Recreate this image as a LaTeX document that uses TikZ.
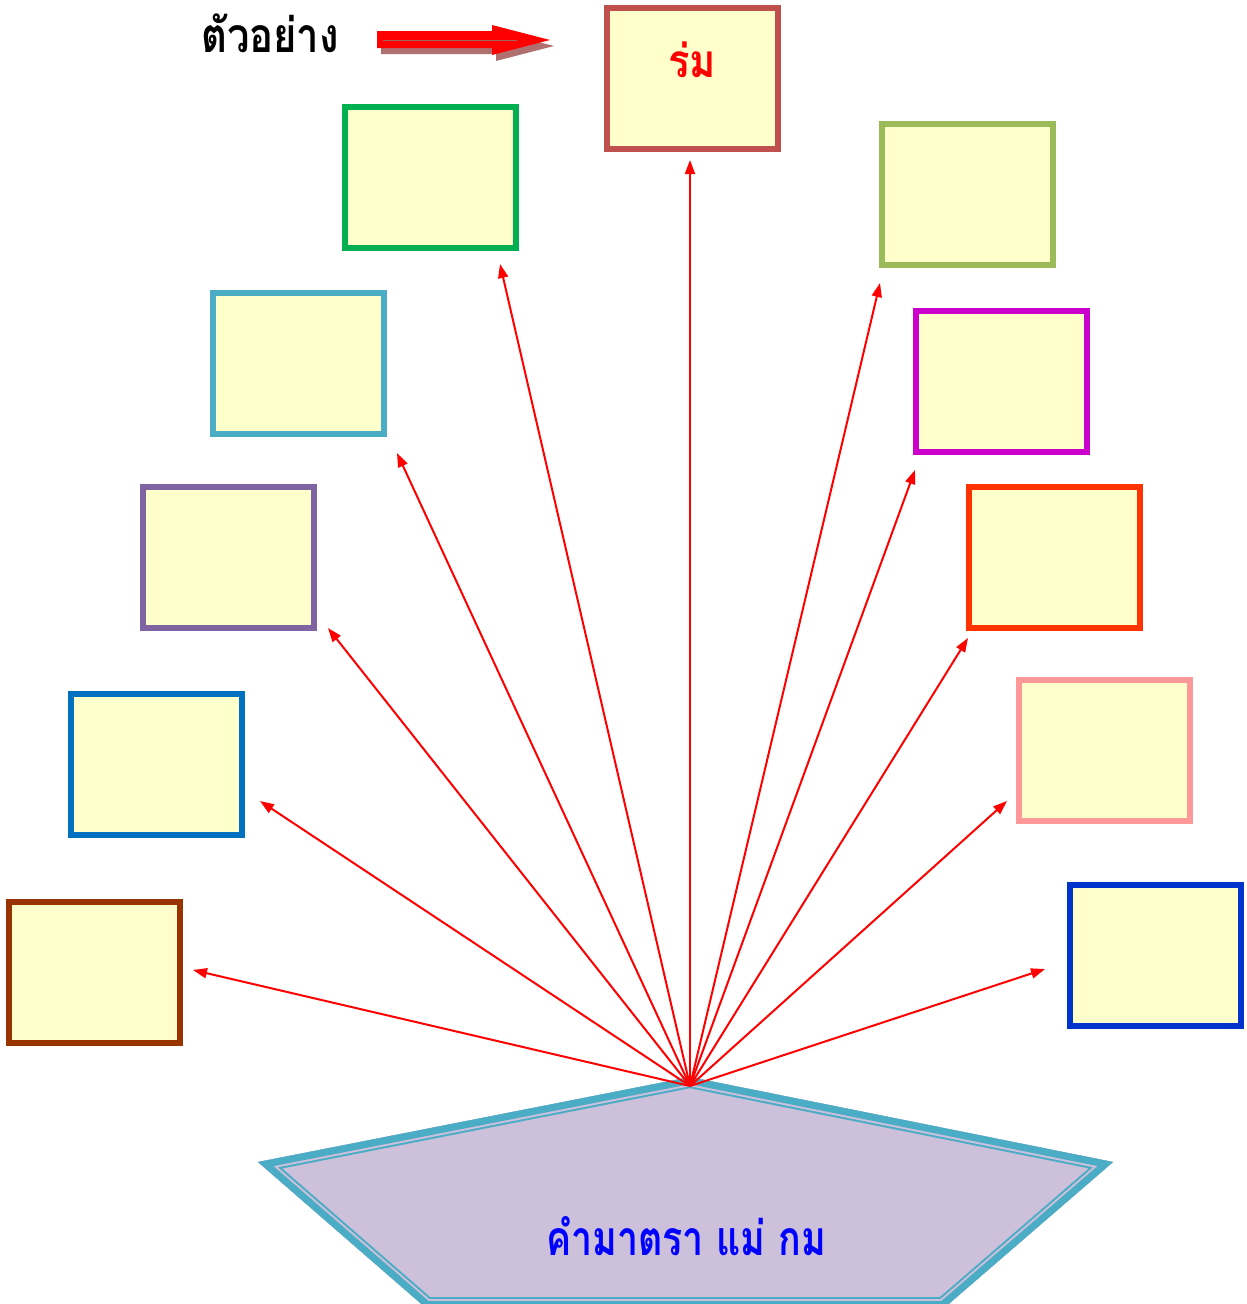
\documentclass[tikz,border=0pt]{standalone}
\usepackage{fontspec}
\newfontfamily\thai[Script=Thai]{Loma}
\usetikzlibrary{arrows.meta}
\definecolor{boxfill}{HTML}{FFFFCC}
\definecolor{cTop}{HTML}{C0504D}
\definecolor{cGreen}{HTML}{00B050}
\definecolor{cCyan}{HTML}{4BACC6}
\definecolor{cPurple}{HTML}{8064A2}
\definecolor{cBlue}{HTML}{0070C0}
\definecolor{cBrown}{HTML}{993300}
\definecolor{cOlive}{HTML}{9BBB59}
\definecolor{cMag}{HTML}{CC00CC}
\definecolor{cOrange}{HTML}{FF3300}
\definecolor{cPink}{HTML}{FF9999}
\definecolor{cDBlue}{HTML}{0033CC}
\definecolor{teal}{HTML}{4BACC6}
\definecolor{lilac}{HTML}{CCC0DA}
\definecolor{shadowc}{HTML}{B07070}
\begin{document}
\begin{tikzpicture}[x=1pt,y=-1pt,
  box/.style={draw, line width=6pt, fill=boxfill, minimum width=171pt, minimum height=141pt, inner sep=0pt},
  ray/.style={draw=red, line width=2pt, -{Triangle[length=14pt,width=10pt]}},
  thaitext/.style={font=\thai\bfseries\fontsize{40}{48}\selectfont}]
\useasboundingbox (0,0) rectangle (1247,1304);
\clip (0,0) rectangle (1247,1304);
% pentagon
\def\pent{(690,1077) -- (1113,1162) -- (944,1308) -- (426,1308) -- (258,1162) -- cycle}
\fill[lilac] \pent;
\begin{scope}
  \clip \pent;
  \draw[teal, line width=22pt, line join=miter] \pent;
  \draw[lilac, line width=18pt, line join=miter] \pent;
  \draw[teal, line width=14pt, line join=miter] \pent;
\end{scope}
\node[thaitext, text=blue] (base) at (686,1236) {\scalebox{0.94}[1.2]{คำมาตรา แม่ กม}};
% boxes
\node[box, draw=cTop, line width=6pt] (top) at (692,78) {};
\node[thaitext, text=red] (toplabel) at (692,60) {\scalebox{1}[1.15]{ร่ม}};
\node[box, draw=cGreen] (g) at (430,177) {};
\node[box, draw=cCyan] (c) at (298,363) {};
\node[box, draw=cPurple] (p) at (228,557) {};
\node[box, draw=cBlue] (bl) at (156,764) {};
\node[box, draw=cBrown] (br) at (94,972) {};
\node[box, draw=cOlive] (o) at (967,194) {};
\node[box, draw=cMag] (m) at (1001,381) {};
\node[box, draw=cOrange] (or) at (1054,557) {};
\node[box, draw=cPink] (pk) at (1104,750) {};
\node[box, draw=cDBlue] (db) at (1155,955) {};
% rays
\coordinate (hub) at (690,1086);
\coordinate (t1) at (690,160);
\coordinate (t2) at (500,264);
\coordinate (t3) at (397,453);
\coordinate (t4) at (328,628);
\coordinate (t5) at (260,801);
\coordinate (t6) at (193,970);
\coordinate (t7) at (880,283);
\coordinate (t8) at (915,470);
\coordinate (t9) at (968,638);
\coordinate (t10) at (1007,801);
\coordinate (t11) at (1045,969);
\foreach \t in {t1,t2,t3,t4,t5,t6,t7,t8,t9,t10,t11}
  \draw[ray] (hub) -- (\t);
% example label and arrow
\node[thaitext, text=black] (ex) at (270,33) {\scalebox{1}[1.2]{ตัวอย่าง}};
\fill[shadowc] (381,37) -- (496,37) -- (496,31) -- (554,46) -- (496,61) -- (496,54) -- (381,54) -- cycle;
\fill[red] (377,31) -- (492,31) -- (492,25) -- (550,40) -- (492,55) -- (492,48) -- (377,48) -- cycle;
\draw[gray!80!red, line width=1pt] (383,40) -- (517,40);
\end{tikzpicture}
\end{document}
